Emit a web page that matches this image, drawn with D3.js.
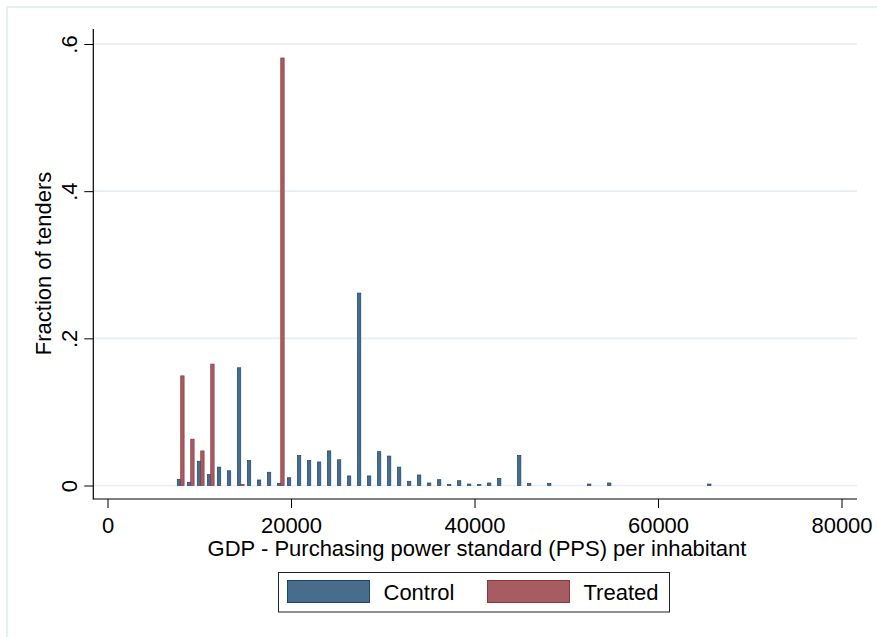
<!DOCTYPE html>
<html>
<head>
<meta charset="utf-8">
<script src="https://cdn.jsdelivr.net/npm/d3@7"></script>
<style>
	body{margin:0;background:#fff;}
	text{font-family:"Liberation Sans",Arial,sans-serif;fill:#000;}
</style>
</head>
<body>
<div id="grafica"></div>
<script>

// bins of GDP (PPS per inhabitant), centre of the first bin and bin width
var binInicio = 7978;
var binAncho = 1090.5;

// fraction of tenders per bin, control group
var fraccionControl = [0.0084,0.0044,0.033,0.015,0.025,0.020,0.160,0.034,0.0075,0.018,
	0.003,0.0106,0.041,0.034,0.032,0.047,0.035,0.013,0.2615,0.013,
	0.046,0.040,0.025,0.0057,0.0143,0.0034,0.0079,0.0016,0.0065,0.002,
	0.0016,0.0034,0.0095,0,0.041,0.003,0,0.003,0,0,
	0,0.002,0,0.0034,0,0,0,0,0,0,
	0,0,0,0.002];

// fraction of tenders per bin, treated group
var fraccionTratado = [0.149,0.063,0.047,0.165,0,0,0.0016,0,0,0,
	0.581];

var ticksX = [0,20000,40000,60000,80000];
var ticksY = [0,0.2,0.4,0.6];
var etiquetasY = ["0",".2",".4",".6"];
var series = ["Control","Treated"];

var colorLinea = {Control:"#1a476f",Treated:"#90353b"};
var colorRelleno = {Control:"#486c8c",Treated:"#a65d62"};

function visHistograma(){
	this.width = 877;
	this.height = 637;

	this.dovisualizacion = function(DOMid){
		var svg = d3.select(DOMid)
				.append("svg")
				.attr("width",this.width)
				.attr("height",this.height);

		/*marco de la region*/
		svg.append("path")
			.attr("d","M7,637V7H877")
			.attr("fill","none")
			.attr("stroke","#e7eff1")
			.attr("stroke-width",2);

		var x = d3.scaleLinear().domain([0,80000]).range([107.5,841.5]);
		var y = d3.scaleLinear().domain([0,0.6]).range([485.5,44]);
		var ejeX = 93.3, ejeY = 499;

		//lineas de la rejilla
		svg.append("g").selectAll("line").data(ticksY).enter()
			.append("line")
			.attr("x1",ejeX)
			.attr("x2",857)
			.attr("y1",function(d){return y(d);})
			.attr("y2",function(d){return y(d);})
			.attr("stroke","#e6eef1")
			.attr("stroke-width",1.6);

		//barras
		var datos = [];
		fraccionControl.forEach(function(v,i){ datos.push({serie:"Control",i:i,v:v}); });
		fraccionTratado.forEach(function(v,i){ datos.push({serie:"Treated",i:i,v:v}); });
		datos = datos.filter(function(d){return d.v>0;});

		var anchoBarra = binAncho*0.34;
		svg.append("g").selectAll("rect").data(datos).enter()
			.append("rect")
			.attr("x",function(d){
				var c = binInicio + binAncho*d.i;
				return d.serie=="Control" ? x(c-anchoBarra) : x(c);
			})
			.attr("width",x(anchoBarra)-x(0))
			.attr("y",function(d){return y(d.v);})
			.attr("height",function(d){return y(0)-y(d.v);})
			.attr("fill",function(d){return colorRelleno[d.serie];})
			.attr("stroke",function(d){return colorLinea[d.serie];})
			.attr("stroke-width",0.7);

		//ejes
		var gY = svg.append("g")
			.attr("transform","translate("+ejeX+",0)")
			.call(d3.axisLeft(y).tickValues(ticksY).tickSize(9)
				.tickFormat(function(d,i){return etiquetasY[i];}));
		gY.select(".domain").remove();
		gY.selectAll(".tick line").attr("stroke","#000");
		gY.selectAll(".tick text")
			.attr("transform","rotate(-90)")
			.attr("x",0)
			.attr("y",-16.5)
			.attr("dy",0)
			.attr("text-anchor","middle")
			.style("font-size","22px")
			.style("font-family","Liberation Sans, Arial, sans-serif");

		var gX = svg.append("g")
			.attr("transform","translate(0,"+ejeY+")")
			.call(d3.axisBottom(x).tickValues(ticksX).tickSize(9).tickFormat(d3.format("d")));
		gX.select(".domain").remove();
		gX.selectAll(".tick line").attr("stroke","#000");
		gX.selectAll(".tick text")
			.attr("y",34)
			.attr("dy",0)
			.style("font-size","22px")
			.style("font-family","Liberation Sans, Arial, sans-serif");

		svg.append("line").attr("x1",ejeX).attr("x2",ejeX).attr("y1",29).attr("y2",ejeY+0.5)
			.attr("stroke","#000").attr("stroke-width",1.2);
		svg.append("line").attr("x1",ejeX).attr("x2",857).attr("y1",ejeY).attr("y2",ejeY)
			.attr("stroke","#000").attr("stroke-width",1.2);

		//titulos
		svg.append("text")
			.attr("transform","translate(51,263.5) rotate(-90)")
			.attr("text-anchor","middle")
			.style("font-size","22px")
			.text("Fraction of tenders");
		svg.append("text")
			.attr("x",477)
			.attr("y",556)
			.attr("text-anchor","middle")
			.style("font-size","22px")
			.text("GDP - Purchasing power standard (PPS) per inhabitant");

		//leyenda
		var leyenda = svg.append("g").attr("class","leyenda");
		leyenda.append("rect")
			.attr("x",278.5).attr("y",572.5).attr("width",391).attr("height",39.5)
			.attr("fill","#fff").attr("stroke","#222").attr("stroke-width",1);
		var items = leyenda.selectAll(".item").data(series).enter()
			.append("g").attr("class","item")
			.attr("transform",function(d,i){return "translate("+(287.5+i*200)+",580.5)";});
		items.append("rect")
			.attr("width",82).attr("height",22)
			.attr("fill",function(d){return colorRelleno[d];})
			.attr("stroke",function(d){return colorLinea[d];})
			.attr("stroke-width",1);
		items.append("text")
			.attr("x",96)
			.attr("y",19)
			.style("font-size","22px")
			.text(function(d){return d;});
	}
}

var vis = new visHistograma();
vis.dovisualizacion("#grafica");
</script>
</body>
</html>
